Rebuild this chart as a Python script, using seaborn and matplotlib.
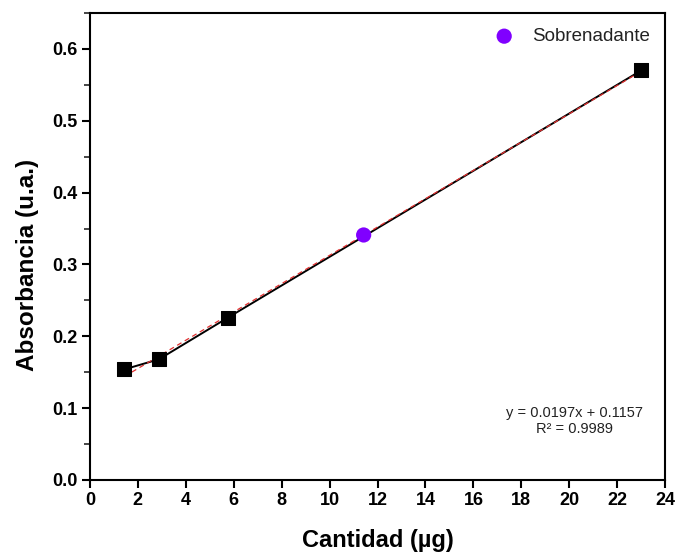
import matplotlib
matplotlib.use("Agg")
import matplotlib.pyplot as plt
import seaborn as sns
import numpy as np
import pandas as pd
from matplotlib.ticker import MultipleLocator

# Data
cantidad = [1.44, 2.88, 5.76, 23.0]
absorbancia = [0.154, 0.168, 0.226, 0.570]
sobre_x = [11.42]
sobre_y = [0.341]
slope = 0.0197
intercept = 0.1157
eq_text = "y = 0.0197x + 0.1157\nR² = 0.9989"

sns.set_theme(style="white")
plt.rcParams['font.family'] = ['Liberation Sans', 'DejaVu Sans']
plt.rcParams['text.color'] = 'black'
plt.rcParams['axes.labelcolor'] = 'black'

fig = plt.figure(figsize=(6.76, 5.54), dpi=100)
ax = fig.add_axes([0.133, 0.1336, 0.851, 0.843])

df = pd.DataFrame({"x": cantidad, "y": absorbancia})
fit_x = [cantidad[0], cantidad[-1]]
fit_df = pd.DataFrame({"x": fit_x, "y": [slope * v + intercept for v in fit_x]})

sns.lineplot(data=df, x="x", y="y", ax=ax, color="black", linewidth=1.4, zorder=2)
sns.lineplot(data=fit_df, x="x", y="y", ax=ax, color="#e03030", linewidth=0.9,
             linestyle=(0, (4, 3)), zorder=3)
sns.scatterplot(data=df, x="x", y="y", ax=ax, marker="s", s=90, color="black",
                edgecolor="black", zorder=4)
sdf = pd.DataFrame({"x": sobre_x, "y": sobre_y})
sns.scatterplot(data=sdf, x="x", y="y", ax=ax, marker="o", s=120, color="#8000ff",
                edgecolor="none", zorder=5, label="Sobrenadante")

ax.set_xlim(0, 24)
ax.set_ylim(0, 0.65)
ax.xaxis.set_major_locator(MultipleLocator(2))
ax.yaxis.set_major_locator(MultipleLocator(0.1))
ax.yaxis.set_minor_locator(MultipleLocator(0.05))
ax.yaxis.set_major_formatter(matplotlib.ticker.FormatStrFormatter('%.1f'))

for s in ax.spines.values():
    s.set_color("black")
    s.set_linewidth(1.5)

ax.tick_params(axis="both", which="major", direction="out", length=6, width=1.5,
               labelsize=13, colors="black", bottom=True, left=True, pad=3)
ax.tick_params(axis="y", which="minor", direction="out", length=4, width=1.2, left=True)
for lab in ax.get_xticklabels() + ax.get_yticklabels():
    lab.set_fontweight("bold")

ax.set_xlabel("Cantidad (µg)", fontsize=17, fontweight="bold", labelpad=14)
ax.set_ylabel("Absorbancia (u.a.)", fontsize=17.5, fontweight="bold")
ax.yaxis.set_label_coords(-0.089, 0.46)

leg = ax.legend(loc="upper right", frameon=False, fontsize=13.5, handletextpad=0.5,
                borderaxespad=0.4, markerscale=1.0)
for t in leg.get_texts():
    t.set_color("#222222")

ax.text(0.843, 0.126, eq_text, transform=ax.transAxes, ha="center", va="center",
        fontsize=10.5, linespacing=1.15, color="#222222")

fig.savefig("out.png", dpi=100)
